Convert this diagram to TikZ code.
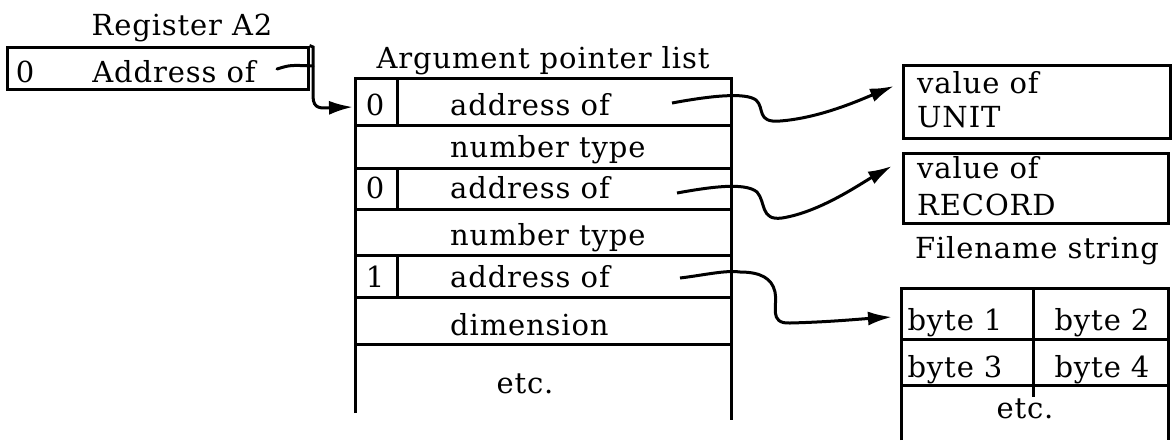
\documentclass[tikz,border=0pt]{standalone}
\usepackage{fontspec}
\setmainfont{DejaVu Serif}[LetterSpace=3]
\usetikzlibrary{arrows.meta}
\tikzset{
  txt/.style={anchor=base, inner sep=0pt, font=\fontsize{29}{34}\selectfont},
  ltxt/.style={txt, anchor=base west},
  frame/.style={draw, line width=3pt, inner sep=0pt},
  rule/.style={line width=3pt},
  ptr/.style={line width=3pt, -{Latex[length=24pt,width=14pt]}},
}
\begin{document}
\begin{tikzpicture}[x=1pt,y=-1pt]
\useasboundingbox (0,0) rectangle (1173,440);
% Register A2
\node[txt] (reglabel) at (182,35) {Register A2};
\node[frame, minimum width=301pt, minimum height=42pt] (reg) at (157.5,68) {};
\node[txt] (regz) at (25,82) {0};
\node[txt] (regaddr) at (174,82) {Address of};
% Argument pointer list
\node[txt] (arglabel) at (543,68) {Argument pointer list};
\draw[rule] (355,413) -- (355,78) -- (731,78) -- (731,420);
\foreach \y in {125,168,209,255,297,344} \draw[rule] (355,\y) -- (731,\y);
\foreach \a/\b in {78/125,168/209,255/297} \draw[rule] (397,\a) -- (397,\b);
\node[txt] (z1) at (375,115) {0};
\node[ltxt] (a1) at (450,115) {address of};
\node[ltxt] (n1) at (450,157) {number type};
\node[txt] (z2) at (375,198) {0};
\node[ltxt] (a2) at (450,198) {address of};
\node[ltxt] (n2) at (450,245) {number type};
\node[txt] (z3) at (375,287) {1};
\node[ltxt] (a3) at (450,287) {address of};
\node[ltxt] (dim) at (450,335) {dimension};
\node[txt] (etc1) at (525,393) {etc.};
% value boxes
\node[frame, minimum width=267pt, minimum height=73pt] (unit) at (1036.5,101.5) {};
\node[ltxt] (u1) at (917,93) {value of};
\node[ltxt] (u2) at (917,127) {UNIT};
\node[frame, minimum width=265pt, minimum height=70pt] (rec) at (1035.5,188) {};
\node[ltxt] (r1) at (917,178) {value of};
\node[ltxt] (r2) at (917,215) {RECORD};
% Filename string
\node[txt] (fnlabel) at (1037,258) {Filename string};
\draw[rule] (901,440) -- (901,288) -- (1168,288) -- (1168,440);
\draw[rule] (901,339) -- (1168,339);
\draw[rule] (901,385) -- (1168,385);
\draw[rule] (1033,288) -- (1033,397);
\node[txt] (b1) at (955,330) {byte 1};
\node[txt] (b2) at (1102,330) {byte 2};
\node[txt] (b3) at (955,377) {byte 3};
\node[txt] (b4) at (1102,377) {byte 4};
\node[txt] (etc2) at (1025,418) {etc.};
% pointer coordinates
\coordinate (s0) at (277,69);
\coordinate (k0) at (313,66);
\coordinate (t0) at (353,107);
\coordinate (s1) at (672,103);
\coordinate (t1) at (894,86);
\coordinate (s2) at (677,193);
\coordinate (t2) at (892,166);
\coordinate (s3) at (680,278);
\coordinate (t3) at (892,317);
% arrows
\draw[line width=3pt, line cap=round] (s0) .. controls (290,65) .. (k0);
\draw[ptr] (reg.north east) -- (313,47) -- (313,96) .. controls (313,110) and (322,108) .. (t0);
\draw[ptr] (s1) .. controls (710,96) and (745,92) .. (756,100) .. controls (765,108) and (756,123) .. (780,121) .. controls (820,118) and (860,100) .. (t1);
\draw[ptr] (s2) .. controls (710,187) and (745,182) .. (757,192) .. controls (766,202) and (760,221) .. (782,218) .. controls (820,212) and (860,184) .. (t2);
\draw[ptr] (s3) .. controls (705,275) and (725,270) .. (740,272) .. controls (760,272) and (772,278) .. (775,292) .. controls (778,305) and (768,324) .. (790,323) .. controls (830,322) and (860,319) .. (t3);
\end{tikzpicture}
\end{document}
